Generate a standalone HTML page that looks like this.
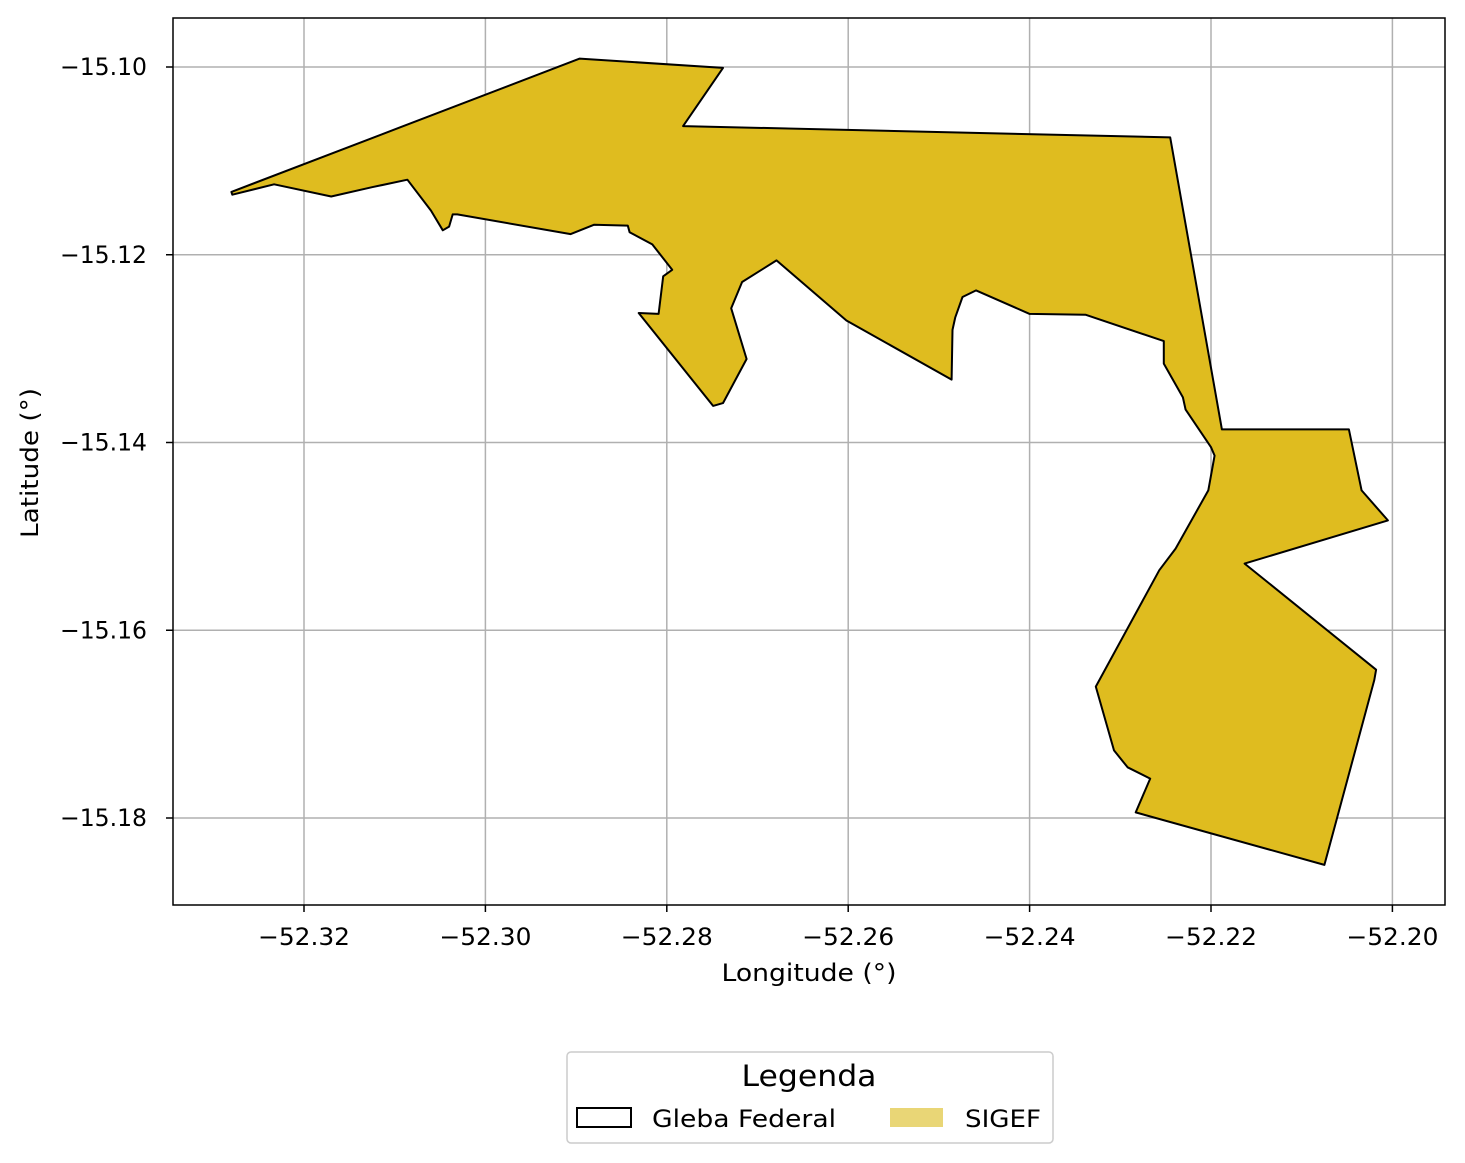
<!DOCTYPE html>
<html><head><meta charset="utf-8">
<style>
body{margin:0;background:#fff;}
svg{display:block;font-family:"DejaVu Sans","Liberation Sans",sans-serif;}
</style></head>
<body>
<svg id="chart" width="1465" height="1163" viewBox="0 0 1465 1163" xmlns="http://www.w3.org/2000/svg">
<rect width="1465" height="1163" fill="#fff"/>
<g id="grid"></g>
<g id="shape"></g>
<rect x="173" y="18" width="1272" height="887" fill="none" stroke="#000" stroke-width="1.5"/>
<g id="ticks"></g>
<text x="809" y="981" font-size="24" text-anchor="middle" textLength="175" lengthAdjust="spacingAndGlyphs">Longitude (°)</text>
<text transform="translate(38,463) rotate(-90)" font-size="24" text-anchor="middle" textLength="150" lengthAdjust="spacingAndGlyphs">Latitude (°)</text>
<g>
<rect x="567" y="1052" width="486" height="91" rx="4" fill="#fff" stroke="#ccc" stroke-width="1.5"/>
<text x="809" y="1086" font-size="29" text-anchor="middle" textLength="135" lengthAdjust="spacingAndGlyphs">Legenda</text>
<rect x="577" y="1108" width="54" height="19" fill="none" stroke="#000" stroke-width="2"/>
<text x="652" y="1127" font-size="24" textLength="184" lengthAdjust="spacingAndGlyphs">Gleba Federal</text>
<rect x="890" y="1108" width="53" height="19" fill="#e9d676"/>
<text x="965" y="1127" font-size="24" textLength="76" lengthAdjust="spacingAndGlyphs">SIGEF</text>
</g>
</svg>
<script>
const xTicks=[-52.32,-52.30,-52.28,-52.26,-52.24,-52.22,-52.20];
const yTicks=[-15.10,-15.12,-15.14,-15.16,-15.18];
const lons=[-52.3280,-52.2896,-52.2738,-52.2782,-52.2245,-52.2188,-52.2048,-52.2034,-52.2005,-52.2163,-52.2018,-52.2020,-52.2075,-52.2283,-52.2267,-52.2292,-52.2307,-52.2327,-52.2257,-52.2239,-52.2203,-52.2196,-52.2200,-52.2228,-52.2231,-52.2252,-52.2252,-52.2338,-52.2400,-52.2459,-52.2474,-52.2482,-52.2485,-52.2486,-52.2602,-52.2679,-52.2717,-52.2729,-52.2712,-52.2738,-52.2749,-52.2831,-52.2809,-52.2804,-52.2794,-52.2816,-52.2841,-52.2843,-52.2880,-52.2906,-52.3031,-52.3036,-52.3040,-52.3047,-52.3060,-52.3086,-52.3125,-52.3170,-52.3233,-52.3279];
const lats=[-15.1133,-15.0991,-15.1001,-15.1063,-15.1075,-15.1386,-15.1386,-15.1451,-15.1483,-15.1529,-15.1642,-15.1653,-15.1850,-15.1794,-15.1758,-15.1746,-15.1728,-15.1660,-15.1536,-15.1513,-15.1451,-15.1414,-15.1405,-15.1365,-15.1352,-15.1316,-15.1292,-15.1264,-15.1263,-15.1238,-15.1245,-15.1267,-15.1280,-15.1333,-15.1270,-15.1206,-15.1229,-15.1257,-15.1311,-15.1358,-15.1361,-15.1262,-15.1263,-15.1223,-15.1216,-15.1189,-15.1176,-15.1169,-15.1168,-15.1178,-15.1157,-15.1157,-15.1170,-15.1174,-15.1153,-15.1120,-15.1128,-15.1138,-15.1125,-15.1136];
const NS='http://www.w3.org/2000/svg';
function xs(v){return 304+(v+52.32)*9070;}
function ys(v){return 67+(-15.10-v)*9387.5;}
function mk(tag,attrs,parent){const e=document.createElementNS(NS,tag);for(const k in attrs)e.setAttribute(k,attrs[k]);parent.appendChild(e);return e;}
const grid=document.getElementById('grid'),ticks=document.getElementById('ticks'),shape=document.getElementById('shape');
function fmt(v,d){return (v<0?'\u2212':'')+Math.abs(v).toFixed(d);}
xTicks.forEach(t=>{const x=xs(t);
const g=mk('line',{x1:x,x2:x,y1:18,y2:905,stroke:'#b0b0b0','stroke-width':1.5},grid);


mk('line',{x1:x,x2:x,y1:905,y2:912,stroke:'#000','stroke-width':1.5},ticks);
const l=mk('text',{x:x,y:945,'font-size':24,'text-anchor':'middle',textLength:92,lengthAdjust:'spacingAndGlyphs'},ticks);l.textContent=fmt(t,2);


});
yTicks.forEach(t=>{const y=ys(t);
const g=mk('line',{x1:173,x2:1445,y1:y,y2:y,stroke:'#b0b0b0','stroke-width':1.5},grid);


mk('line',{x1:166,x2:173,y1:y,y2:y,stroke:'#000','stroke-width':1.5},ticks);
const l=mk('text',{x:147,y:y+8,'font-size':24,'text-anchor':'end',textLength:87,lengthAdjust:'spacingAndGlyphs'},ticks);l.textContent=fmt(t,2);


});
const pts=lons.map((v,i)=>xs(v).toFixed(1)+','+ys(lats[i]).toFixed(1)).join(' ');
const p=mk('polygon',{points:pts,fill:'#dfbc1f',stroke:'#000','stroke-width':2,'stroke-linejoin':'round'},shape);


</script>
</body></html>
